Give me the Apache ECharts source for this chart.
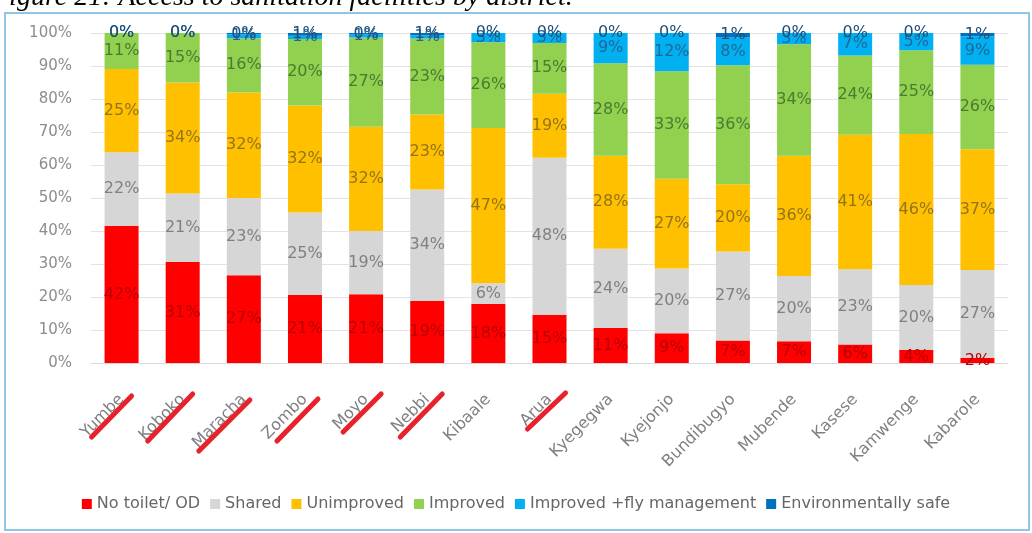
<!DOCTYPE html>
<html>
<head>
<meta charset="utf-8">
<script src="https://cdn.jsdelivr.net/npm/echarts@6/dist/echarts.min.js"></script>
<style>
  html, body { margin: 0; padding: 0; background: #ffffff; }
  #chart { width: 1032px; height: 533px; }
</style>
</head>
<body>
<div id="chart"></div>
<script>
// Districts, in order of share of households with no toilet
const districts = ['Yumbe', 'Koboko', 'Maracha', 'Zombo', 'Moyo', 'Nebbi', 'Kibaale', 'Arua',
  'Kyegegwa', 'Kyejonjo', 'Bundibugyo', 'Mubende', 'Kasese', 'Kamwenge', 'Kabarole'];

// Share of households (%) by sanitation facility type
const noToilet   = [41.6, 30.6, 26.6, 20.6, 20.8, 18.9, 17.9, 14.6, 10.6, 9.0, 6.8, 6.6, 5.6, 4.0, 1.6];
const shared     = [22.3, 20.8, 23.4, 25.0, 19.2, 33.7, 6.3, 47.6, 24.0, 19.6, 27.0, 19.8, 22.8, 19.6, 26.6];
const unimproved = [25.2, 33.6, 32.0, 32.4, 31.6, 22.7, 47.0, 19.4, 28.2, 27.2, 20.4, 36.4, 40.8, 45.8, 36.6];
const improved   = [10.9, 15.0, 16.4, 20.2, 27.0, 23.0, 26.0, 15.4, 28.0, 32.6, 36.0, 33.8, 24.0, 25.4, 25.6];
const flyMgmt    = [0, 0, 1.2, 1.0, 1.0, 1.0, 2.8, 3.0, 9.2, 11.6, 8.4, 3.4, 6.8, 5.2, 8.6];
const envSafe    = [0, 0, 0.4, 0.8, 0.4, 0.7, 0, 0, 0, 0, 1.4, 0, 0, 0, 1.0];

const yTicks = [0, 10, 20, 30, 40, 50, 60, 70, 80, 90, 100];

// Districts underlined by hand in red
const underlined = ['Yumbe', 'Koboko', 'Maracha', 'Zombo', 'Moyo', 'Nebbi', 'Arua'];
// stroke ends relative to each tick on the category axis: [x1, y1, x2, y2]
const strokeShape = {
  Yumbe: [-30, 74, 10, 33], Koboko: [-35, 78, 10, 31], Maracha: [-45, 88, 6, 37],
  Zombo: [-28, 78, 13, 36], Moyo: [-23, 69, 15, 31], Nebbi: [-27, 74, 15, 31],
  Arua: [-22, 66, 16, 30]
};

const seriesDefs = [
  { name: 'No toilet/ OD', data: noToilet, color: '#ff0000', text: '#b80000' },
  { name: 'Shared', data: shared, color: '#d6d6d6', text: '#808080' },
  { name: 'Unimproved', data: unimproved, color: '#ffc000', text: '#94741a' },
  { name: 'Improved', data: improved, color: '#92d050', text: '#4b7a30' },
  { name: 'Improved +fly management', data: flyMgmt, color: '#00b0f0', text: '#22679a' },
  { name: 'Environmentally safe', data: envSafe, color: '#0070c0', text: '#1f4e79' }
];

const chart = echarts.init(document.getElementById('chart'), null, { renderer: 'canvas' });
const FONT = '"DejaVu Sans", "Liberation Sans", sans-serif';

chart.setOption({
  animation: false,
  backgroundColor: '#ffffff',
  grid: { left: 91, right: 24, top: 33, bottom: 170 },
  legend: {
    bottom: 16,
    left: 'center',
    itemWidth: 10,
    itemHeight: 10,
    itemGap: 10,
    icon: 'rect',
    textStyle: { color: '#666666', fontSize: 16, fontFamily: FONT },
    data: seriesDefs.map(s => s.name)
  },
  xAxis: {
    type: 'category',
    data: districts,
    axisLine: { lineStyle: { color: '#d9d9d9' } },
    axisTick: { show: false },
    axisLabel: { rotate: 45, margin: 34, color: '#808080', fontSize: 16, fontFamily: FONT, interval: 0 }
  },
  yAxis: {
    type: 'value',
    min: yTicks[0],
    max: yTicks[yTicks.length - 1],
    interval: yTicks[1] - yTicks[0],
    axisLine: { show: false },
    axisTick: { show: false },
    splitLine: { lineStyle: { color: '#e3e3e3' } },
    axisLabel: { formatter: '{value}%', color: '#8c8c8c', fontSize: 15, fontFamily: FONT, margin: 19 }
  },
  series: seriesDefs.map(s => ({
    type: 'bar',
    name: s.name,
    stack: 'share',
    barWidth: 34,
    data: s.data,
    itemStyle: { color: s.color },
    label: {
      show: true,
      position: 'inside',
      color: s.text,
      fontSize: 16,
      fontFamily: FONT,
      formatter: p => Math.round(p.value) + '%'
    }
  }))
});

// Frame, caption and red underlines
function drawExtras() {
  const elements = [
    {
      type: 'rect', silent: true, z: 100,
      shape: { x: 5, y: 13, width: 1024, height: 517 },
      style: { fill: 'none', stroke: '#8fc6e3', lineWidth: 2 }
    },
    {
      type: 'text', silent: true, z: 100,
      style: {
        text: 'Figure 21: Access to sanitation facilities by district.',
        x: -8, y: 12, textVerticalAlign: 'bottom', verticalAlign: 'bottom',
        font: 'italic 28px "Liberation Serif", "DejaVu Serif", serif',
        fill: '#000000'
      }
    }
  ];
  underlined.forEach(name => {
    const p = chart.convertToPixel({ xAxisIndex: 0, yAxisIndex: 0 }, [name, 0]);
    const s = strokeShape[name];
    elements.push({
      type: 'line', silent: true, z: 100,
      shape: { x1: p[0] + s[0], y1: p[1] + s[1], x2: p[0] + s[2], y2: p[1] + s[3] },
      style: { stroke: '#e8222c', lineWidth: 5, lineCap: 'round' }
    });
  });
  chart.setOption({ graphic: elements });
}
drawExtras();
</script>
</body>
</html>
